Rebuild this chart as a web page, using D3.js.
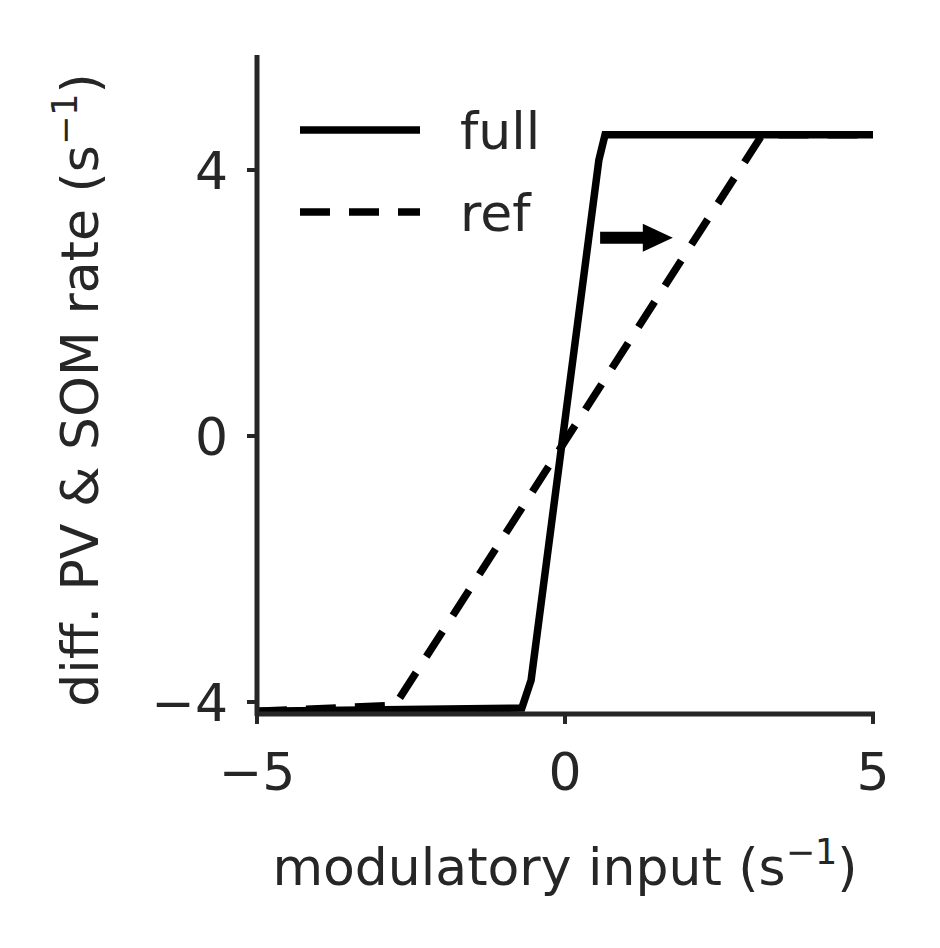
<!DOCTYPE html>
<html><head><meta charset="utf-8">
<script src="https://cdn.jsdelivr.net/npm/d3@7"></script>
<style>body{margin:0;background:#fff}svg text{font-family:"DejaVu Sans";fill:#262626}</style>
</head><body><svg id="c" width="940" height="948"></svg>
<script>
// curves
const fullX = [-5, -0.7, -0.55, 0.55, 0.65, 5];
const fullY = [-4.14, -4.09, -3.67, 4.15, 4.53, 4.53];
const refX = [-5, -2.76, 3.2, 5];
const refY = [-4.14, -4.05, 4.53, 4.53];
const arrowX = [0.57, 1.75];
const arrowY = 2.98;
const xTicks = [-5, 0, 5];
const yTicks = [-4, 0, 4];

const svg = d3.select('#c');
const x = d3.scaleLinear().domain([-5, 5]).range([257, 873]);
const y = d3.scaleLinear().domain([-4, 4]).range([702, 170]);
const ink = '#262626';
const fs = 52;
const dash = '30,19';

const line = d3.line().x(d => x(d[0])).y(d => y(d[1]));
svg.append('path').attr('d', line(d3.zip(refX, refY))).attr('fill', 'none')
  .attr('stroke', '#000').attr('stroke-width', 7.5).attr('stroke-dasharray', dash);
svg.append('path').attr('d', line(d3.zip(fullX, fullY))).attr('fill', 'none')
  .attr('stroke', '#000').attr('stroke-width', 7.5);

// arrow
const ay = y(arrowY);
svg.append('line').attr('x1', x(arrowX[0])).attr('x2', x(arrowX[1]) - 28)
  .attr('y1', ay).attr('y2', ay).attr('stroke', '#000').attr('stroke-width', 12);
svg.append('path').attr('fill', '#000')
  .attr('d', `M${x(arrowX[1])},${ay}L${x(arrowX[1]) - 30},${ay - 14}L${x(arrowX[1]) - 30},${ay + 14}Z`);

// axes
const yTop = 5.73, yBot = -4.18;
svg.append('line').attr('x1', 257).attr('x2', 257).attr('y1', y(yTop)).attr('y2', y(yBot) + 2)
  .attr('stroke', ink).attr('stroke-width', 5);
svg.append('line').attr('x1', 255).attr('x2', 875).attr('y1', y(yBot)).attr('y2', y(yBot))
  .attr('stroke', ink).attr('stroke-width', 5);
xTicks.forEach(t => {
  svg.append('line').attr('x1', x(t)).attr('x2', x(t)).attr('y1', y(yBot)).attr('y2', y(yBot) + 10)
    .attr('stroke', ink).attr('stroke-width', 4);
  svg.append('text').attr('x', x(t)).attr('y', y(yBot) + 76).attr('text-anchor', 'middle')
    .attr('font-size', fs).text(t < 0 ? '\u2212' + (-t) : t);
});
yTicks.forEach(t => {
  svg.append('line').attr('x1', 247).attr('x2', 257).attr('y1', y(t)).attr('y2', y(t))
    .attr('stroke', ink).attr('stroke-width', 4);
  svg.append('text').attr('x', 228).attr('y', y(t) + 19).attr('text-anchor', 'end')
    .attr('font-size', fs).text(t < 0 ? '\u2212' + (-t) : t);
});

function label(sel, main) {
  sel.append('tspan').text(main + '(s');
  sel.append('tspan').attr('dy', -21).attr('font-size', 35).text('\u22121');
  sel.append('tspan').attr('dy', 21).text(')');
}
label(svg.append('text').attr('x', 565).attr('y', 885).attr('text-anchor', 'middle').attr('font-size', fs),
  'modulatory input ');
label(svg.append('text').attr('transform', 'translate(98,390) rotate(-90)').attr('text-anchor', 'middle').attr('font-size', fs),
  'diff. PV & SOM rate ');

// legend
const leg = [{t: 'full', d: null, yy: 130}, {t: 'ref', d: dash, yy: 212}];
leg.forEach(l => {
  svg.append('line').attr('x1', 300).attr('x2', 420).attr('y1', l.yy).attr('y2', l.yy)
    .attr('stroke', '#000').attr('stroke-width', 7.5).attr('stroke-dasharray', l.d);
  svg.append('text').attr('x', 460).attr('y', l.yy + 19).attr('font-size', fs).text(l.t);
});
</script></body></html>
